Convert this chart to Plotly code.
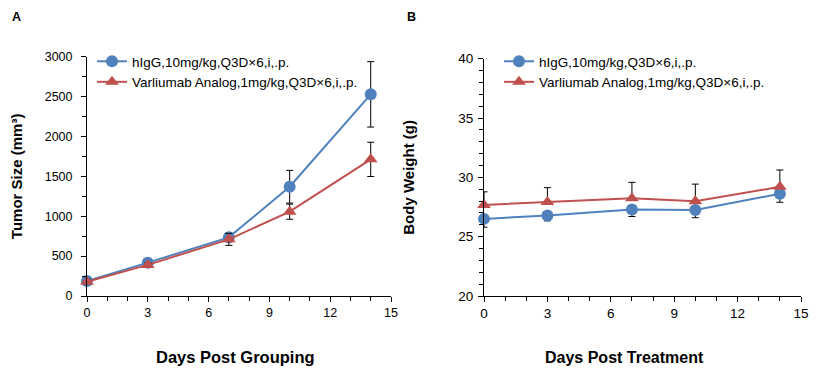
import plotly.graph_objects as go

days = [0, 3, 7, 10, 14]

# Panel A: tumor size (mm^3)
tumor_higg = [188, 418, 735, 1370, 2528]
tumor_higg_err = [25, 25, 55, 205, 410]
tumor_var = [178, 390, 710, 1057, 1713]
tumor_var_err = [25, 25, 75, 95, 215]

# Panel B: body weight (g)
bw_higg = [26.5, 26.78, 27.3, 27.25, 28.62]
bw_higg_err_minus = [0.7, 0.45, 0.6, 0.65, 0.72]
bw_var = [27.68, 27.93, 28.23, 27.98, 29.2]
bw_var_err_plus = [1.1, 1.2, 1.35, 1.45, 1.42]

name_higg = "hIgG,10mg/kg,Q3D×6,i,.p."
name_var = "Varliumab Analog,1mg/kg,Q3D×6,i,.p."

BLUE = "#4f81bd"
RED = "#c0504d"
FONT = "Arial, Liberation Sans, sans-serif"

# page body has an 8px default margin; size figure so it fills the 822x372 window
OFF = 8
W, H = 822 - OFF, 372 - OFF


def px_x(p):
    return (p - OFF) / W


def px_y(p):
    return (372 - p) / H


fig = go.Figure()

err_style = dict(color="black", thickness=1, width=3.5)

fig.add_trace(go.Scatter(
    x=days, y=tumor_higg, name=name_higg, mode="lines+markers",
    line=dict(color=BLUE, width=2),
    marker=dict(symbol="circle", size=12, color=BLUE),
    error_y=dict(type="data", array=tumor_higg_err, visible=True, **err_style),
    xaxis="x", yaxis="y", legend="legend", cliponaxis=False))
fig.add_trace(go.Scatter(
    x=days, y=tumor_var, name=name_var, mode="lines+markers",
    line=dict(color=RED, width=2),
    marker=dict(symbol="triangle-up", size=12, color=RED),
    error_y=dict(type="data", array=tumor_var_err, visible=True, **err_style),
    xaxis="x", yaxis="y", legend="legend", cliponaxis=False))

fig.add_trace(go.Scatter(
    x=days, y=bw_higg, name=name_higg, mode="lines+markers",
    line=dict(color=BLUE, width=2),
    marker=dict(symbol="circle", size=12, color=BLUE),
    error_y=dict(type="data", symmetric=False, array=[0] * len(days),
                 arrayminus=bw_higg_err_minus, visible=True, **err_style),
    xaxis="x2", yaxis="y2", legend="legend2", cliponaxis=False))
fig.add_trace(go.Scatter(
    x=days, y=bw_var, name=name_var, mode="lines+markers",
    line=dict(color=RED, width=2),
    marker=dict(symbol="triangle-up", size=12, color=RED),
    error_y=dict(type="data", symmetric=False, array=bw_var_err_plus,
                 arrayminus=[0] * len(days), visible=True, **err_style),
    xaxis="x2", yaxis="y2", legend="legend2", cliponaxis=False))


def axis_common(size):
    return dict(
        showline=True, linecolor="black", linewidth=1,
        ticks="outside", ticklen=5, tickcolor="black", tickwidth=1,
        showgrid=False, zeroline=False, automargin=False,
        tickfont=dict(family=FONT, size=size, color="black"),
    )


minor_common = dict(ticks="outside", ticklen=4, tickcolor="black", tickwidth=1, showgrid=False)


def tfont(size):
    return dict(family=FONT, size=size, color="black", weight="bold")


def label(text, x, y, font, yanchor="middle"):
    return dict(text=text, x=px_x(x), y=px_y(y), xref="paper", yref="paper",
                xanchor="center", yanchor=yanchor, showarrow=False, font=font)


fig.update_layout(
    width=W, height=H,
    margin=dict(l=0, r=0, t=0, b=0, autoexpand=False),
    paper_bgcolor="white", plot_bgcolor="white",
    font=dict(family=FONT, color="black"),
    xaxis=dict(domain=[px_x(87), px_x(391)], range=[0, 15], dtick=3, tick0=0,
               minor=dict(dtick=1, **minor_common), anchor="y",
               **axis_common(12.5)),
    yaxis=dict(domain=[px_y(296), px_y(56.7)], range=[0, 3000], dtick=500,
               minor=dict(dtick=250, **minor_common), anchor="x",
               ticklabelstandoff=6,
               title=dict(text="Tumor Size (mm³)", font=tfont(15), standoff=24),
               **axis_common(12.5)),
    xaxis2=dict(domain=[px_x(484), px_x(801)], range=[0, 15], dtick=3, tick0=0,
                minor=dict(dtick=1, **minor_common), anchor="y2",
                **axis_common(13.5)),
    yaxis2=dict(domain=[px_y(296), px_y(58.7)], range=[20, 40], dtick=5,
                minor=dict(dtick=1, **minor_common), anchor="x2",
                ticklabelstandoff=2,
                title=dict(text="Body Weight (g)", font=tfont(15), standoff=40),
                **axis_common(13.5)),
    legend=dict(x=px_x(92), y=px_y(46), xanchor="left", yanchor="top",
                bgcolor="rgba(0,0,0,0)", font=dict(family=FONT, size=13.5, color="black"),
                tracegroupgap=0),
    legend2=dict(x=px_x(499), y=px_y(46), xanchor="left", yanchor="top",
                 bgcolor="rgba(0,0,0,0)", font=dict(family=FONT, size=13.5, color="black"),
                 tracegroupgap=0),
    annotations=[
        label("<b>A</b>", 16, 8.5, dict(family=FONT, size=12.5, color="black"), "top"),
        label("<b>B</b>", 411, 8.5, dict(family=FONT, size=12.5, color="black"), "top"),
        label("Days Post Grouping", 235, 357, tfont(16.5)),
        label("Days Post Treatment", 624, 357, tfont(16)),
    ],
)

fig.write_html("out.html")
